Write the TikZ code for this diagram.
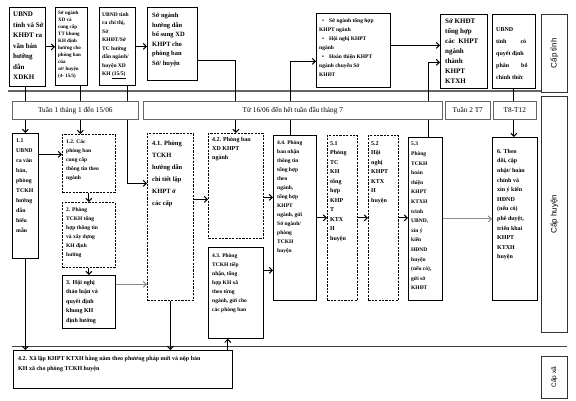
\documentclass[tikz,border=0pt]{standalone}
\usepackage{fontspec}
\setmainfont{Liberation Serif}
\newfontfamily\lsans{Liberation Sans}
\usetikzlibrary{arrows.meta}
\newcommand\bx[7]{\node[#1,anchor=north west,minimum width={(#5)-(#3)},minimum height={(#6)-(#4)}] (#2) at (#3,#4) {#7};}
\newcommand\tx[6]{\node[txt,font=#3,anchor=north west] (#1) at ([xshift=#4pt,yshift=-#5pt]#2.north west) {#6};}
\newcommand\fs[2]{\fontsize{#1}{#2}\selectfont\bfseries}
\tikzset{
 sbox/.style={draw,line width=0.7pt,inner sep=0pt},
 dbox/.style={draw,line width=0.7pt,dash pattern=on 2.2pt off 1.2pt,inner sep=0pt},
 tlbox/.style={draw=black!60,line width=0.6pt,fill=white,inner sep=0pt,font=\fontsize{7.3}{8}\selectfont},
 lvl/.style={draw=black!80,line width=0.6pt,inner sep=0pt},
 txt/.style={inner sep=0pt,align=left},
 conn/.style={line width=1.1pt},
 arr/.style={conn,-{Straight Barb[length=3pt,width=6pt,line width=1pt]}},
 garr/.style={line width=1pt,black!45,-{Straight Barb[length=3pt,width=6pt,line width=1pt]}},
}
\begin{document}
\begin{tikzpicture}[x=1pt,y=-1pt]
\useasboundingbox[fill=white] (0,0) rectangle (576,401);
% ---- top row (Cap tinh)
\bx{sbox}{A}{9}{7}{45}{86}{}
\bx{sbox}{B}{55}{7}{87}{85}{}
\bx{sbox}{C}{99}{7}{135}{85}{}
\bx{sbox}{D}{147}{7}{197}{80}{}
\bx{sbox}{E}{316}{13}{390}{87}{}
\bx{sbox}{F}{440}{14}{487}{88}{}
\bx{sbox}{G}{492}{14}{535}{88}{}
\bx{lvl}{ct}{541}{14}{567}{92}{}
\bx{lvl}{ch}{541}{96}{567}{332}{}
\bx{lvl}{cx}{541}{356}{567}{398}{}
\node[rotate=90,font=\lsans\fontsize{8}{9}\selectfont] (ctl) at (ct) {Cấp tỉnh};
\node[rotate=90,font=\lsans\fontsize{8}{9}\selectfont] (chl) at (ch) {Cấp huyện};
\node[rotate=90,font=\lsans\fontsize{6.5}{8}\selectfont] (cxl) at (cx) {Cấp xã};
\tx{At}{A}{\fs{7}{10.5}}{4}{5}{UBND\\tỉnh và Sở\\KHĐT ra\\văn bản\\hướng\\dẫn\\XDKH}
\tx{Bt}{B}{\fs{5}{7}}{3}{4}{Sở ngành\\XD và\\cung cấp\\TT khung\\KH định\\hướng cho\\phòng ban\\của\\sở/ huyện\\(4- 15/5)}
\tx{Ct}{C}{\fs{5.5}{8.5}}{3}{5}{UBND tỉnh\\ra chỉ thị,\\Sở\\KHĐT/Sở\\TC hướng\\dẫn ngành/\\huyện XD\\KH \underline{(15/5)}}
\tx{Dt}{D}{\fs{6.5}{9.5}}{5}{6}{Sở ngành\\hướng dẫn\\bổ sung XD\\KHPT cho\\phòng ban\\Sở/ huyện}
\tx{Et}{E}{\fs{5.5}{9}}{3}{5}{\hspace*{3pt}•\hspace*{5pt}Sở ngành tổng hợp\\KHPT ngành\\\hspace*{3pt}•\hspace*{5pt}Hội nghị KHPT\\ngành\\\hspace*{3pt}•\hspace*{5pt}Hoàn thiện KHPT\\ngành chuyển Sở\\KHĐT}
\tx{Ft}{F}{\fs{7}{10}}{5}{5}{Sở KHĐT\\tổng hợp\\các\enspace KHPT\\ngành\\thành\\KHPT\\KTXH}
\tx{Gt}{G}{\fs{6}{12}}{4}{13}{UBND\\tỉnh\hspace{14pt}có\\quyết định\\phân\hspace{12pt}bổ\\chính thức}
% ---- row 2 (Cap huyen)
\bx{sbox}{b11}{12}{133}{38}{258}{}
\bx{dbox}{b12}{62}{134}{115}{192}{}
\bx{dbox}{b2}{62}{202}{115}{267}{}
\bx{sbox}{b3}{62}{275}{115}{328}{}
\bx{dbox}{b41}{147}{133}{193}{300}{}
\bx{dbox}{b42}{208}{133}{263}{238}{}
\bx{sbox}{b43}{208}{247}{263}{338}{}
\bx{sbox}{b44}{273}{135}{316}{300}{}
\bx{dbox}{b51}{327}{135}{357}{300}{}
\bx{dbox}{b52}{368}{135}{398}{300}{}
\bx{sbox}{b53}{408}{137}{442}{300}{}
\bx{sbox}{b6}{492}{137}{537}{300}{}
\bx{sbox}{xa}{13}{350}{232}{388}{}
\tx{b11t}{b11}{\fs{5.8}{10}}{4}{5}{1.1\\UBND\\ra văn\\bản,\\phòng\\TCKH\\hướng\\dẫn\\hiểu\\mẫu}
\tx{b12t}{b12}{\fs{5.5}{9}}{4}{5}{1.2. Các\\phòng ban\\cung cấp\\thông tin theo\\ngành}
\tx{b2t}{b2}{\fs{5.5}{9}}{4}{5}{2. Phòng\\TCKH tổng\\hợp thông tin\\và xây dựng\\KH định\\hướng}
\tx{b3t}{b3}{\fs{6}{9.5}}{4}{5}{3. Hội nghị\\thảo luận và\\quyết định\\khung KH\\định hướng}
\tx{b41t}{b41}{\fs{6.5}{12}}{5}{8}{4.1. Phòng\\TCKH\\hướng dẫn\\chi tiết lập\\KHPT ở\\các cấp}
\tx{b42t}{b42}{\fs{6}{9}}{4}{4}{4.2. Phòng ban\\XD KHPT\\ngành}
\tx{b43t}{b43}{\fs{5.5}{9}}{4}{6}{4.3. Phòng\\TCKH tiếp\\nhận, tổng\\hợp KH xã\\theo từng\\ngành, gửi cho\\các phòng ban}
\tx{b44t}{b44}{\fs{5.5}{9}}{4}{5}{4.4. Phòng\\ban nhận\\thông tin\\tổng hợp\\theo\\ngành,\\tổng hợp\\KHPT\\ngành, gửi\\Sở ngành/\\phòng\\TCKH\\huyện}
\tx{b51t}{b51}{\fs{6}{9.5}}{3}{6}{5.1\\Phòng\\TC\\KH\\tổng\\hợp\\KHP\\T\\KTX\\H\\huyện}
\tx{b52t}{b52}{\fs{6}{9.5}}{3}{6}{5.2\\Hội\\nghị\\KHPT\\KTX\\H\\huyện}
\tx{b53t}{b53}{\fs{5.5}{9.6}}{3}{5}{5.3\\Phòng\\TCKH\\hoàn\\thiện\\KHPT\\KTXH\\trình\\UBND,\\xin ý\\kiến\\HĐND\\huyện\\(nếu có),\\gửi sở\\KHĐT}
\tx{b6t}{b6}{\fs{6}{9.6}}{5}{12}{6. Theo\\dõi, cập\\nhật/ hoàn\\chỉnh và\\xin ý kiến\\HĐND\\(nếu có)\\phê duyệt,\\triển khai\\KHPT\\KTXH\\huyện}
\tx{xat}{xa}{\fs{6}{10}}{5}{6}{4.2. Xã lập KHPT KTXH hằng năm theo phương pháp mới và nộp bản\\KH xã cho phòng TCKH huyện}
% ---- dividers
\draw[black!60,line width=1.2pt] (8,91) -- (541,91);
\draw[black!75,line width=1pt] (12,346) -- (567,346);
% ---- connectors
\draw[arr] (A.east) -- (A.east -| B.west);
\draw[arr] (C.east) -- (C.east -| D.west);
\draw[arr] ([yshift=-16.5pt]D.east) -| (b42.north);
\draw[arr] ([xshift=-4.5pt]b44.north) |- ([yshift=-11pt]E.west);
\draw[arr] ([yshift=5pt]E.east) -- ([yshift=5pt]E.east -| F.west);
\draw[arr] ([xshift=3pt]b53.north) |- ([yshift=-11pt]F.west);
\draw[arr] (G.south) -- (G.south |- b6.north);
\draw[arr] ([xshift=-2pt]A.south) -- ([xshift=-2pt]A.south |- b11.north);
\draw[arr] ([xshift=9pt]B.south) -- ([xshift=9pt]B.south |- b12.north);
\draw[arr] ([xshift=10pt]C.south) |- ([yshift=33.5pt]b41.west);
\draw[arr] ([yshift=41.5pt]b11.east) -- ([yshift=41.5pt]b11.east -| b12.west);
\draw[arr] (b12.south) -- (b2.north);
\draw[arr] (b2.south) -- (b3.north);
\draw[garr] ([yshift=17.5pt]b3.east) -- ([yshift=17.5pt]b3.east -| b41.west);
\draw[arr] ([yshift=17.5pt]b41.east) -- ([yshift=17.5pt]b41.east -| b42.west);
\draw[arr] ([yshift=-11.5pt]b42.east) -- ([yshift=-11.5pt]b42.east -| b44.west);
\draw[arr] ([yshift=22.5pt]b43.east) -- ([yshift=22.5pt]b43.east -| b44.west);
\draw[arr] (b44.east) -- (b44.east -| b51.west);
\draw[arr] (b51.east) -- (b51.east -| b52.west);
\draw[arr] (b52.east) -- (b52.east -| b53.west);
\draw[garr] (b53.east) -- (b53.east -| b6.west);
\draw[arr] (b11.south) -- (b11.south |- xa.north);
\draw[arr] (b41.south) -- (b41.south |- xa.north);
\draw[arr] ([xshift=-8pt]b43.south |- xa.north) -- ([xshift=-8pt]b43.south);
% ---- timeline (over the lines)
\bx{tlbox}{t1}{12}{101}{138}{119}{Tuần 1 tháng 1 đến 15/06}
\bx{tlbox}{t2}{143}{101}{442}{119}{Từ 16/06 đến hết tuần đầu tháng 7}
\bx{tlbox}{t3}{445}{101}{490}{119}{Tuần 2 T7}
\bx{tlbox}{t4}{493}{101}{536}{119}{T8-T12}
\end{tikzpicture}
\end{document}
